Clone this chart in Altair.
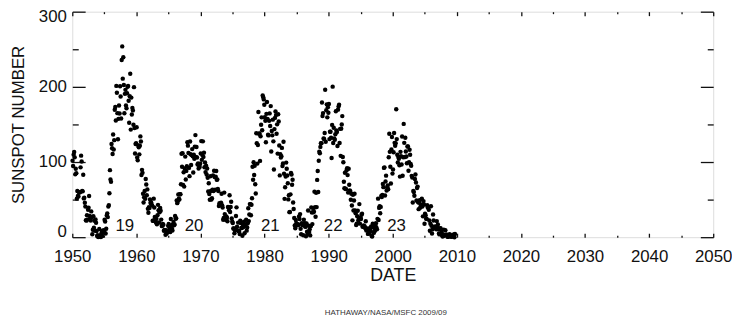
import altair as alt
import pandas as pd

# Monthly sunspot numbers, one list per decade (Jan 1950 .. Sep 2009)
ssn_1950s = [
    101.6, 94.8, 109.7, 113.4, 106.2, 83.6, 91.0, 85.2, 51.3, 61.4, 54.8, 54.1,
    59.9, 59.9, 59.9, 92.9, 108.5, 100.6, 61.5, 61.0, 83.1, 51.6, 52.4, 45.8,
    40.7, 22.7, 22.0, 29.1, 23.4, 36.4, 39.3, 54.9, 28.2, 23.8, 22.1, 34.3,
    26.5, 3.9, 10.0, 27.8, 12.5, 21.8, 8.6, 23.5, 19.3, 8.2, 1.6, 2.5,
    0.2, 0.5, 10.9, 1.8, 0.8, 0.2, 4.8, 8.4, 1.5, 7.0, 9.2, 7.6,
    23.1, 20.8, 4.9, 11.3, 28.9, 31.7, 26.7, 40.7, 42.7, 58.5, 89.2, 76.9,
    73.6, 124.0, 118.4, 110.7, 136.6, 116.6, 129.1, 169.6, 173.2, 155.3, 201.3, 192.1,
    165.0, 130.2, 157.4, 175.2, 164.6, 200.7, 187.2, 158.0, 235.8, 253.8, 210.9, 239.4,
    202.5, 164.9, 190.7, 196.0, 175.3, 171.5, 191.4, 200.2, 201.2, 181.5, 152.3, 187.6,
    217.4, 143.1, 185.7, 163.3, 172.0, 168.7, 149.6, 199.6, 145.2, 111.4, 124.0, 125.0,
]
ssn_1960s = [
    146.3, 106.0, 102.2, 122.0, 119.6, 110.2, 121.7, 134.1, 127.2, 82.8, 89.6, 85.6,
    57.9, 46.1, 53.0, 61.4, 51.0, 77.4, 70.2, 55.9, 63.6, 37.7, 32.6, 40.0,
    38.7, 50.3, 45.6, 46.4, 43.7, 42.0, 21.8, 21.8, 51.3, 39.5, 26.9, 23.2,
    19.8, 24.4, 17.1, 29.3, 43.0, 35.9, 19.6, 33.2, 38.8, 35.3, 23.4, 14.9,
    15.3, 17.7, 16.5, 8.6, 9.5, 9.1, 3.1, 9.3, 4.7, 6.1, 7.4, 15.1,
    17.5, 14.2, 11.7, 6.8, 24.1, 15.9, 11.9, 8.9, 16.8, 20.1, 15.8, 17.0,
    28.2, 24.4, 25.3, 48.7, 45.3, 47.7, 56.7, 51.2, 50.2, 57.2, 57.2, 70.4,
    110.9, 93.6, 111.8, 69.5, 86.5, 67.3, 91.5, 107.2, 76.8, 88.2, 94.3, 126.4,
    121.8, 111.9, 92.2, 81.2, 127.2, 110.3, 96.1, 109.3, 117.2, 107.7, 86.0, 109.8,
    104.4, 120.5, 135.8, 106.8, 120.0, 106.0, 96.8, 98.0, 91.3, 95.7, 93.5, 97.9,
]
ssn_1970s = [
    111.5, 127.8, 102.9, 109.5, 127.5, 106.8, 112.5, 93.0, 99.5, 86.6, 95.2, 83.5,
    91.3, 79.0, 60.7, 71.8, 57.5, 49.8, 81.0, 61.4, 50.2, 51.7, 63.2, 82.2,
    61.5, 88.4, 80.1, 63.2, 80.5, 88.0, 76.5, 76.8, 64.0, 61.3, 41.6, 45.3,
    43.4, 42.9, 46.0, 57.7, 42.4, 39.5, 23.1, 25.6, 59.3, 30.7, 23.9, 23.3,
    27.6, 26.0, 21.3, 40.3, 39.5, 36.0, 55.8, 33.6, 40.2, 47.1, 25.0, 20.5,
    18.9, 11.5, 11.5, 5.1, 9.0, 11.4, 28.2, 39.7, 13.9, 9.1, 19.4, 7.8,
    8.1, 4.3, 21.9, 18.8, 12.4, 12.2, 1.9, 16.4, 13.5, 20.6, 5.2, 15.3,
    16.4, 23.1, 8.7, 12.9, 18.6, 38.5, 21.4, 30.1, 44.0, 43.8, 29.1, 43.2,
    51.9, 93.6, 76.5, 99.7, 82.7, 95.1, 70.4, 58.1, 138.2, 125.1, 97.9, 122.7,
    166.6, 137.5, 138.0, 101.5, 134.4, 149.5, 159.4, 142.2, 188.4, 186.2, 183.3, 176.3,
]
ssn_1980s = [
    159.6, 155.0, 126.2, 164.1, 179.9, 157.3, 136.3, 135.4, 155.0, 164.7, 147.9, 174.4,
    114.0, 141.3, 135.5, 156.4, 127.5, 90.0, 143.8, 158.7, 167.3, 162.4, 137.5, 150.1,
    111.2, 163.6, 153.8, 122.0, 82.2, 110.4, 106.1, 107.6, 118.8, 94.7, 98.1, 127.0,
    84.3, 51.0, 66.5, 80.7, 99.2, 91.1, 82.2, 71.8, 50.3, 55.8, 33.3, 33.4,
    57.0, 85.4, 83.5, 69.7, 76.4, 46.1, 37.4, 25.5, 15.7, 12.0, 22.8, 18.7,
    16.5, 15.9, 17.2, 16.2, 27.5, 24.2, 30.7, 11.1, 3.9, 18.6, 16.2, 17.3,
    2.5, 23.2, 15.1, 18.5, 13.7, 1.1, 18.1, 7.4, 3.8, 35.4, 15.2, 6.8,
    10.4, 2.4, 14.7, 39.6, 33.0, 17.4, 33.0, 38.7, 33.9, 60.6, 39.9, 27.1,
    59.0, 40.0, 76.2, 88.0, 60.1, 101.8, 113.8, 111.6, 120.1, 125.1, 125.1, 179.2,
    161.3, 165.1, 131.4, 130.6, 138.5, 196.2, 126.9, 168.9, 176.7, 159.4, 173.0, 165.5,
]
ssn_1990s = [
    177.3, 130.5, 140.3, 140.3, 132.2, 105.4, 149.4, 200.3, 125.2, 145.5, 131.4, 129.7,
    136.9, 167.5, 141.9, 140.0, 121.3, 169.7, 173.7, 176.3, 125.3, 144.1, 108.2, 144.4,
    150.0, 161.1, 106.7, 99.8, 73.8, 65.2, 85.7, 64.5, 63.9, 88.7, 91.8, 82.6,
    59.3, 91.0, 69.8, 62.2, 61.3, 49.8, 57.9, 42.2, 22.4, 56.4, 35.6, 48.9,
    57.8, 35.5, 31.7, 16.1, 17.8, 28.0, 35.1, 22.5, 25.7, 44.0, 18.0, 26.2,
    24.2, 29.9, 31.1, 14.0, 14.5, 15.6, 14.5, 14.3, 11.8, 21.1, 9.0, 10.0,
    11.5, 4.4, 9.2, 4.8, 5.5, 11.8, 8.2, 14.4, 1.6, 0.9, 17.9, 13.3,
    5.7, 7.6, 8.7, 15.5, 18.5, 12.7, 10.4, 24.4, 51.3, 22.8, 39.0, 41.2,
    31.9, 40.3, 54.8, 53.4, 56.3, 70.7, 66.6, 92.2, 92.9, 55.5, 74.0, 81.9,
    62.0, 66.3, 68.8, 63.7, 106.4, 137.7, 113.5, 93.7, 71.5, 116.7, 133.2, 84.6,
]
ssn_2000s = [
    90.1, 112.9, 138.5, 125.5, 121.6, 124.9, 170.1, 130.5, 109.7, 99.4, 106.8, 104.4,
    95.6, 80.6, 113.5, 107.7, 96.6, 134.0, 81.8, 106.4, 150.7, 125.5, 106.5, 132.2,
    114.1, 107.4, 98.4, 120.7, 120.8, 88.3, 99.6, 116.4, 109.6, 97.5, 95.0, 81.6,
    79.5, 46.2, 61.5, 60.0, 55.2, 77.4, 83.3, 72.7, 48.7, 65.5, 67.3, 46.5,
    37.3, 45.8, 49.1, 39.3, 41.5, 43.2, 51.1, 40.9, 27.7, 48.0, 43.5, 17.9,
    31.3, 29.2, 24.5, 24.4, 42.6, 39.6, 39.9, 36.4, 22.1, 8.5, 18.0, 41.2,
    15.3, 4.9, 10.6, 30.2, 22.3, 13.9, 12.2, 12.9, 14.4, 10.5, 21.4, 13.6,
    16.9, 10.6, 4.8, 3.7, 11.7, 12.0, 10.0, 6.2, 2.4, 0.9, 1.7, 10.1,
    3.4, 2.1, 9.3, 2.9, 3.2, 3.4, 0.5, 0.5, 1.1, 2.9, 4.1, 0.8,
    1.5, 1.4, 0.7, 1.2, 2.9, 2.6, 3.5, 0.0, 4.2,
]

start_year = 1950
cycle_names = ["19", "20", "21", "22", "23"]
cycle_x = [1958.2, 1969.0, 1980.9, 1990.7, 2000.6]
cycle_y = [15, 15, 15, 15, 15]
x_ticks = list(range(1950, 2051, 5))
y_ticks = list(range(0, 301, 50))
footer = "HATHAWAY/NASA/MSFC 2009/09"

values = ssn_1950s + ssn_1960s + ssn_1970s + ssn_1980s + ssn_1990s + ssn_2000s
dates = [start_year + (i + 0.5) / 12 for i in range(len(values))]
df = pd.DataFrame({"date": dates, "ssn": values})
labels_df = pd.DataFrame({"date": cycle_x, "ssn": cycle_y, "name": cycle_names})

FONT = "Liberation Sans"
INK = "#111111"

xs = alt.Scale(domain=[1950, 2050], nice=False, zero=False)
ys = alt.Scale(domain=[0, 300], nice=False, zero=True)

major_x = "datum.value % 10 === 0"
major_y = "datum.value % 100 === 0"


def tsize(test, major, minor):
    return {"condition": {"test": test, "value": major}, "value": minor}


x_bottom = alt.Axis(
    orient="bottom", values=x_ticks, format="d",
    labelExpr=f"{major_x} ? datum.label : ''",
    labelFlush=False, labelOverlap=False, labelFont=FONT, labelFontSize=17,
    labelColor=INK, labelPadding=16, tickColor=INK, tickWidth=1.3,
    tickSize=tsize(major_x, -4, -2),
    domain=False, grid=False,
    title="DATE", titleFont=FONT, titleFontSize=18, titleFontWeight="normal",
    titleColor=INK, titleY=30,
)
y_left = alt.Axis(
    orient="left", values=y_ticks, format="d",
    labelExpr=f"{major_y} ? datum.label : ''",
    labelFlush=True, labelFlushOffset=3, labelOverlap=False, labelFont=FONT,
    labelFontSize=17, labelColor=INK, labelPadding=19, tickColor=INK, tickWidth=1.3,
    tickSize=tsize(major_y, -13, -6),
    domain=False, grid=False,
    title="SUNSPOT NUMBER", titleFont=FONT, titleFontSize=17, titleFontWeight="normal",
    titleColor=INK, titleX=-54, titleY=114, titleBaseline="middle", titleAlign="center",
)
x_top = alt.Axis(
    orient="top", values=x_ticks, labels=False, domain=False, grid=False, title=None,
    tickColor=INK, tickWidth=1.3, tickSize=tsize(major_x, -4, -2),
)
y_right = alt.Axis(
    orient="right", values=y_ticks, labels=False, domain=False, grid=False, title=None,
    tickColor=INK, tickWidth=1.3, tickSize=tsize(major_y, -13, -6),
)

points = alt.Chart(df).mark_circle(size=20, color="black", opacity=1).encode(
    x=alt.X("date:Q", scale=xs, axis=x_bottom),
    y=alt.Y("ssn:Q", scale=ys, axis=y_left),
)
frame = alt.Chart(df).mark_circle(opacity=0).encode(
    x=alt.X("date:Q", scale=xs, axis=x_top),
    y=alt.Y("ssn:Q", scale=ys, axis=y_right),
)
cycles = alt.Chart(labels_df).mark_text(
    font=FONT, fontSize=17, color=INK, align="center", baseline="middle"
).encode(
    x=alt.X("date:Q", scale=xs, axis=None),
    y=alt.Y("ssn:Q", scale=ys, axis=None),
    text="name:N",
)

chart = (
    alt.layer(points, frame, cycles)
    .resolve_axis(x="independent", y="independent")
    .properties(
        width=648, height=228,
        autosize=alt.AutoSizeParams(type="none"),
        padding={"left": 65, "top": 2, "right": 19, "bottom": 82},
        title=alt.TitleParams(footer, orient="bottom", anchor="middle", fontSize=8,
                              font=FONT, fontWeight="normal", color="#333333",
                              dx=-7, offset=25),
    )
    .configure_view(stroke="#1a1a1a", strokeWidth=1.6)
    .configure(background="white")
)

chart.save("out.html", embed_options={"renderer": "svg", "actions": False})
